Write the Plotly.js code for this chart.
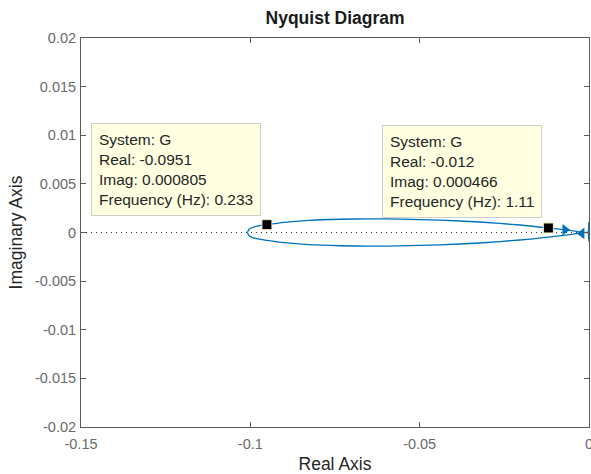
<!DOCTYPE html>
<html>
<head>
<meta charset="utf-8">
<script src="https://cdn.plot.ly/plotly-3.0.1.min.js"></script>
<style>html,body{margin:0;padding:0;background:#fff;}#chart{width:591px;height:474px;}</style>
</head>
<body>
<div id="chart"></div>
<script>
// Positive-frequency branch (DC -> high frequency)
const realPos = [-0.10089, -0.10030, -0.09882, -0.0951, -0.08994, -0.08254, -0.07367, -0.06479, -0.05592, -0.04408, -0.03225, -0.02041, -0.0120, -0.00562, -0.0003, -0.0001, -0.00003, 0.0];
const imagPos = [0.0, 0.00036, 0.00059, 0.000805, 0.00105, 0.00125, 0.00136, 0.00141, 0.00138, 0.00127, 0.00108, 0.00077, 0.000466, 0.00021, 0.00001, 0.0006, 0.0011, 0.0];
// Negative-frequency branch (mirror image), same real parts
const realNeg = [-0.10089, -0.10030, -0.09882, -0.0951, -0.08994, -0.08254, -0.07367, -0.06479, -0.05592, -0.04408, -0.03225, -0.02041, -0.0120, -0.00562, -0.0003, -0.0001, -0.00003, 0.0];
const imagNeg = [0.0, -0.00036, -0.00059, -0.000805, -0.00105, -0.00125, -0.00136, -0.00141, -0.00138, -0.00127, -0.00108, -0.00077, -0.000466, -0.00021, -0.00001, -0.0005, -0.0009, 0.0];

// Direction arrows
const arrowReal = [-0.0071, -0.0021];
const arrowImag = [0.00029, -0.00009];
const arrowSymbols = ['triangle-right', 'triangle-left'];

// Data tips
const tipReal = [-0.0951, -0.012];
const tipImag = [0.000805, 0.000466];
const tipFreq = ['0.233', '1.11'];
const tipRealText = ['-0.0951', '-0.012'];
const tipImagText = ['0.000805', '0.000466'];
const tipShiftX = [-6, -6];
const tipShiftY = [9, 10];

const xTicks = [-0.15, -0.1, -0.05, 0];
const xTickText = ['-0.15', '-0.1', '-0.05', '0'];
const yTicks = [-0.02, -0.015, -0.01, -0.005, 0, 0.005, 0.01, 0.015, 0.02];
const yTickText = ['-0.02', '-0.015', '-0.01', '-0.005', '0', '0.005', '0.01', '0.015', '0.02'];

const blue = '#0072BD';
const axisColor = '#5a5a5a';
const tickTextColor = '#6a6a6a';
const FONT = '"Liberation Sans", Arial, Helvetica, sans-serif';

const traces = [
  {x: realPos, y: imagPos, mode: 'lines', line: {color: blue, width: 1.3, shape: 'spline', smoothing: 0.6}, hoverinfo: 'skip'},
  {x: realNeg, y: imagNeg, mode: 'lines', line: {color: blue, width: 1.3, shape: 'spline', smoothing: 0.6}, hoverinfo: 'skip'},
  {x: arrowReal, y: arrowImag, mode: 'markers', marker: {symbol: arrowSymbols, size: 10, color: blue}, hoverinfo: 'skip'},
  {x: tipReal, y: tipImag, mode: 'markers', marker: {symbol: 'square', size: 10, color: '#000000', line: {color: '#f0ecc0', width: 1}}, hoverinfo: 'skip'}
];

const annotations = tipReal.map((xr, i) => ({
  x: xr, y: tipImag[i], xref: 'x', yref: 'y',
  xanchor: 'right', yanchor: 'bottom', xshift: tipShiftX[i], yshift: tipShiftY[i],
  showarrow: false, align: 'left',
  text: 'System: G<br>Real: ' + tipRealText[i] + '<br>Imag: ' + tipImagText[i] + '<br>Frequency (Hz): ' + tipFreq[i],
  font: {family: FONT, size: 15.5, color: '#262626'},
  bgcolor: 'rgb(255,255,225)', bordercolor: '#cfcfcf', borderwidth: 1, borderpad: 7
}));

const layout = {
  width: 591, height: 474,
  margin: {l: 81, r: 2, t: 38, b: 47},
  paper_bgcolor: '#ffffff', plot_bgcolor: '#ffffff',
  showlegend: false,
  font: {family: FONT, size: 14.5, color: '#404040'},
  title: {text: '<b>Nyquist Diagram</b>', x: 0.567, xanchor: 'center', y: 0.962, yanchor: 'middle', yref: 'container',
          font: {family: FONT, size: 17.5, color: '#1a1a1a'}},
  xaxis: {
    range: [-0.15, 0], tickvals: xTicks, ticktext: xTickText,
    ticks: 'inside', ticklen: 5, tickcolor: axisColor, tickwidth: 1,
    showline: true, linecolor: axisColor, linewidth: 1, mirror: 'ticks',
    showgrid: false, zeroline: false, ticklabeloverflow: 'allow', ticklabelstandoff: 4,
    tickfont: {family: FONT, size: 14.5, color: tickTextColor},
    title: {text: 'Real Axis', font: {family: FONT, size: 17.5, color: '#262626'}, standoff: 9}
  },
  yaxis: {
    range: [-0.02, 0.02], tickvals: yTicks, ticktext: yTickText,
    ticks: 'inside', ticklen: 5, tickcolor: axisColor, tickwidth: 1,
    showline: true, linecolor: axisColor, linewidth: 1, mirror: 'ticks',
    showgrid: false, zeroline: false, ticklabelstandoff: 1,
    tickfont: {family: FONT, size: 14.5, color: tickTextColor},
    title: {text: 'Imaginary Axis', font: {family: FONT, size: 17.5, color: '#262626'}, standoff: 7}
  },
  shapes: [{type: 'line', xref: 'paper', yref: 'y', x0: 0, x1: 1, y0: 0, y1: 0,
            line: {color: '#333333', width: 1, dash: '1px,4px'}, layer: 'below'}],
  annotations: annotations
};

Plotly.newPlot('chart', traces, layout, {staticPlot: true, displayModeBar: false});
</script>
</body>
</html>
